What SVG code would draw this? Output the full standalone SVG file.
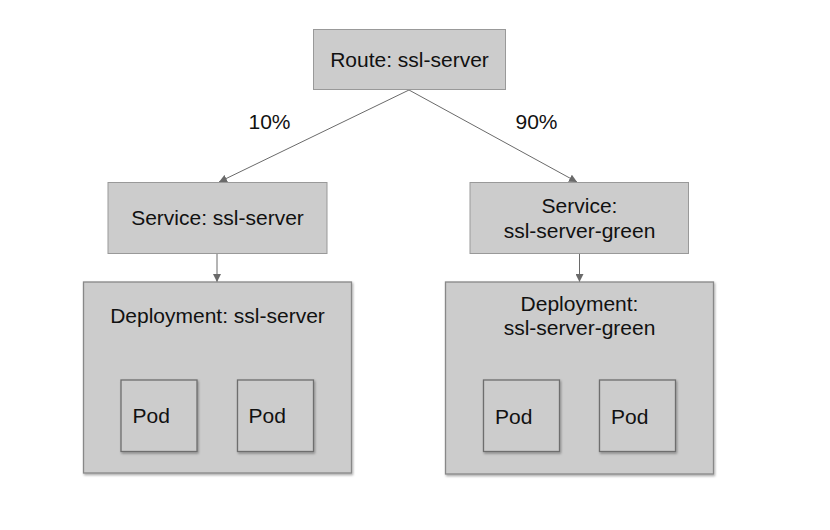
<svg xmlns="http://www.w3.org/2000/svg" width="830" height="530" viewBox="0 0 830 530">
<style>
.box{fill:#cccccc;stroke:#999999;stroke-width:1}
.dep{fill:#cccccc;stroke:#888888;stroke-width:1.3}
.pod{fill:#cccccc;stroke:#6e6e6e;stroke-width:1.3}
.t{font-family:"Liberation Sans",Arial,sans-serif;font-size:21px;fill:#111111}
.c{text-anchor:middle}
.conn{stroke:#6a6a6a;stroke-width:1;fill:none;marker-end:url(#ah)}
</style>
<defs>
<marker id="ah" viewBox="0 0 10 10" refX="10" refY="5" markerWidth="8" markerHeight="8" markerUnits="userSpaceOnUse" orient="auto">
<path d="M0,0 L10,5 L0,10 Z" fill="#6a6a6a"/>
</marker>
<filter id="sh" x="-10%" y="-10%" width="130%" height="130%">
<feDropShadow dx="1" dy="1.5" stdDeviation="1.2" flood-color="#000" flood-opacity="0.35"/>
</filter>
</defs>
<rect width="830" height="530" fill="#ffffff"/>
<g id="connectors">
<line class="conn" x1="409" y1="90" x2="219" y2="182"/>
<line class="conn" x1="409" y1="90" x2="577" y2="182"/>
<line class="conn" x1="217" y1="253.5" x2="217" y2="282"/>
<line class="conn" x1="579.5" y1="253.5" x2="579.5" y2="282"/>
<text class="t c" x="269.5" y="129">10%</text>
<text class="t c" x="536.5" y="129">90%</text>
</g>
<g id="route">
<rect class="box" x="313.5" y="29.5" width="192" height="60"/>
<text class="t c" x="409.5" y="67">Route: ssl-server</text>
</g>
<g id="service-left">
<rect class="box" x="108" y="182.5" width="219" height="71"/>
<text class="t c" x="217.5" y="225">Service: ssl-server</text>
</g>
<g id="service-right">
<rect class="box" x="470" y="182.5" width="218.5" height="71"/>
<text class="t c" x="579.5" y="213">Service:</text>
<text class="t c" x="579.5" y="237.5">ssl-server-green</text>
</g>
<g id="deployment-left">
<rect class="dep" x="83.5" y="282" width="268" height="191" filter="url(#sh)"/>
<text class="t c" x="217.5" y="322.5">Deployment: ssl-server</text>
</g>
<g id="pod-left-1">
<rect class="pod" x="121" y="380" width="76" height="71.5" filter="url(#sh)"/>
<text class="t" x="132.5" y="423">Pod</text>
</g>
<g id="pod-left-2">
<rect class="pod" x="237.5" y="380" width="76" height="71.5" filter="url(#sh)"/>
<text class="t" x="248.5" y="423">Pod</text>
</g>
<g id="deployment-right">
<rect class="dep" x="445.5" y="282" width="268" height="192" filter="url(#sh)"/>
<text class="t c" x="579.5" y="310.5">Deployment:</text>
<text class="t c" x="579.5" y="335">ssl-server-green</text>
</g>
<g id="pod-right-1">
<rect class="pod" x="483.5" y="380" width="76" height="71.5" filter="url(#sh)"/>
<text class="t" x="495" y="424">Pod</text>
</g>
<g id="pod-right-2">
<rect class="pod" x="599.5" y="380" width="76" height="71.5" filter="url(#sh)"/>
<text class="t" x="611" y="424">Pod</text>
</g>
</svg>
